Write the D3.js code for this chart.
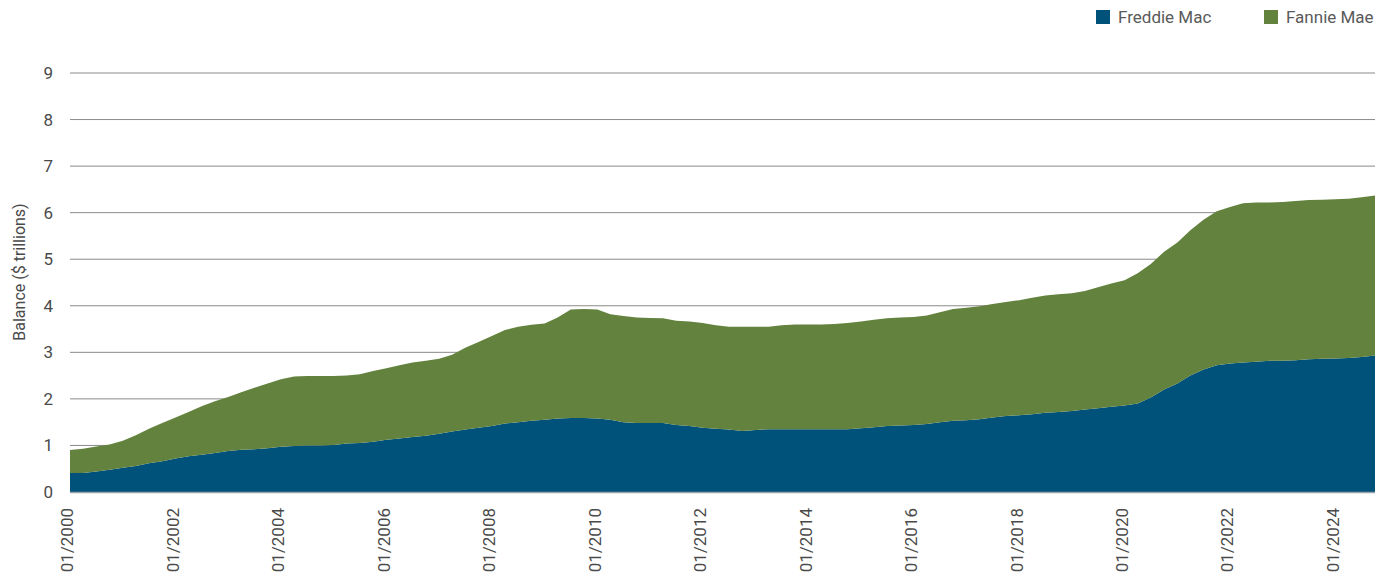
<!DOCTYPE html>
<html>
<head>
<meta charset="utf-8">
<script src="https://cdn.jsdelivr.net/npm/d3@7"></script>
<style>
  body { margin: 0; background: #fff; }
  svg { display: block; font-family: Roboto, "Noto Sans", sans-serif; }
</style>
</head>
<body>
<svg width="1391" height="575"></svg>
<script>
// quarterly observations, Jan/Apr/Jul/Oct, 2000 - 2024 ($ trillions)
var freddie = [
  0.41, 0.41, 0.44, 0.48,
  0.52, 0.56, 0.62, 0.66,
  0.72, 0.77, 0.80, 0.84,
  0.88, 0.91, 0.92, 0.94,
  0.97, 0.99, 1.00, 1.00,
  1.01, 1.04, 1.05, 1.08,
  1.12, 1.15, 1.18, 1.21,
  1.25, 1.30, 1.34, 1.38,
  1.42, 1.47, 1.50, 1.53,
  1.55, 1.58, 1.59, 1.59,
  1.58, 1.55, 1.50, 1.48,
  1.48, 1.48, 1.44, 1.42,
  1.38, 1.36, 1.34, 1.31,
  1.33, 1.35, 1.35, 1.35,
  1.35, 1.35, 1.35, 1.35,
  1.37, 1.39, 1.42, 1.43,
  1.44, 1.46, 1.50, 1.53,
  1.54, 1.56, 1.60, 1.63,
  1.65, 1.67, 1.70, 1.72,
  1.74, 1.77, 1.80, 1.83,
  1.86, 1.90, 2.03, 2.20,
  2.33, 2.50, 2.63, 2.72,
  2.76, 2.78, 2.80, 2.82,
  2.82, 2.83, 2.85, 2.86,
  2.87, 2.88, 2.90, 2.93
];
var fannie = [
  0.49, 0.52, 0.54, 0.54,
  0.58, 0.66, 0.74, 0.82,
  0.88, 0.95, 1.04, 1.11,
  1.16, 1.23, 1.32, 1.39,
  1.45, 1.49, 1.49, 1.49,
  1.48, 1.46, 1.48, 1.52,
  1.54, 1.57, 1.60, 1.61,
  1.61, 1.65, 1.76, 1.84,
  1.93, 2.01, 2.05, 2.06,
  2.07, 2.17, 2.33, 2.34,
  2.34, 2.27, 2.28, 2.27,
  2.26, 2.25, 2.24, 2.24,
  2.25, 2.22, 2.21, 2.24,
  2.22, 2.20, 2.23, 2.25,
  2.25, 2.25, 2.26, 2.28,
  2.29, 2.31, 2.31, 2.32,
  2.32, 2.33, 2.36, 2.40,
  2.42, 2.43, 2.44, 2.45,
  2.47, 2.50, 2.52, 2.53,
  2.53, 2.55, 2.60, 2.65,
  2.69, 2.80, 2.87, 2.96,
  3.03, 3.12, 3.22, 3.31,
  3.36, 3.42, 3.42, 3.40,
  3.41, 3.42, 3.42, 3.42,
  3.42, 3.42, 3.43, 3.44
];
var startYear = 2000;
var quarterMonths = [0, 3, 6, 9];
var yTicks = [0, 1, 2, 3, 4, 5, 6, 7, 8, 9];
var tickYears = [2000, 2002, 2004, 2006, 2008, 2010, 2012, 2014, 2016, 2018, 2020, 2022, 2024];
var seriesNames = ['Freddie Mac', 'Fannie Mae'];
var seriesKeys = ['freddie', 'fannie'];
var seriesColors = ['#00527b', '#62823d'];

var rows = freddie.map(function(d, i){
  return {
    date: new Date(startYear + Math.floor(i / 4), quarterMonths[i % 4], 1),
    freddie: d,
    fannie: fannie[i]
  };
});

var svg = d3.select('svg');
var plotLeft = 70, plotRight = 1375, plotTop = 73, plotBottom = 492;

var x = d3.scaleTime()
  .domain(d3.extent(rows, function(d){ return d.date; }))
  .range([plotLeft, plotRight]);
var y = d3.scaleLinear().domain([0, 9]).range([plotBottom, plotTop]);

// gridlines
svg.append('g').selectAll('line')
  .data(yTicks.slice(1))
  .enter().append('line')
    .attr('x1', plotLeft).attr('x2', plotRight)
    .attr('y1', function(d){ return y(d); })
    .attr('y2', function(d){ return y(d); })
    .attr('stroke', '#8a8a8a')
    .attr('stroke-width', 1);

var stack = d3.stack().keys(seriesKeys);
var layers = stack(rows);

var area = d3.area()
  .x(function(d){ return x(d.data.date); })
  .y0(function(d){ return y(d[0]); })
  .y1(function(d){ return y(d[1]); });

svg.append('g').selectAll('path')
  .data(layers)
  .enter().append('path')
    .attr('d', area)
    .attr('fill', function(d, i){ return seriesColors[i]; });

// baseline
svg.append('line')
  .attr('x1', plotLeft).attr('x2', plotRight)
  .attr('y1', y(0) + 0.5).attr('y2', y(0) + 0.5)
  .attr('stroke', '#9aa3ab').attr('stroke-width', 1.5);

// y labels
svg.append('g').selectAll('text')
  .data(yTicks)
  .enter().append('text')
    .attr('x', 53)
    .attr('y', function(d){ return y(d); })
    .attr('dy', '0.35em')
    .attr('text-anchor', 'end')
    .attr('font-size', 17)
    .attr('fill', '#4a4a4a')
    .text(function(d){ return d; });

// x labels
var fmt = d3.timeFormat('%m/%Y');
svg.append('g').selectAll('text')
  .data(tickYears)
  .enter().append('text')
    .attr('transform', function(d){
      return 'translate(' + x(new Date(d, 0, 1)) + ',508) rotate(-90)';
    })
    .attr('dy', '0.2em')
    .attr('text-anchor', 'end')
    .attr('font-size', 17)
    .attr('fill', '#4a4a4a')
    .text(function(d){ return fmt(new Date(d, 0, 1)); });

// y title
svg.append('text')
  .attr('transform', 'translate(25,272) rotate(-90)')
  .attr('text-anchor', 'middle')
  .attr('font-size', 16)
  .attr('fill', '#4a4a4a')
  .text('Balance ($ trillions)');

// legend
var legendX = [1096, 1264];
var legend = svg.append('g').selectAll('g')
  .data(seriesNames)
  .enter().append('g')
    .attr('transform', function(d, i){ return 'translate(' + legendX[i] + ',10)'; });
legend.append('rect')
  .attr('width', 14).attr('height', 14)
  .attr('fill', function(d, i){ return seriesColors[i]; });
legend.append('text')
  .attr('x', 22).attr('y', 13)
  .attr('font-size', 17)
  .attr('fill', '#5a5a5a')
  .text(function(d){ return d; });
</script>
</body>
</html>
